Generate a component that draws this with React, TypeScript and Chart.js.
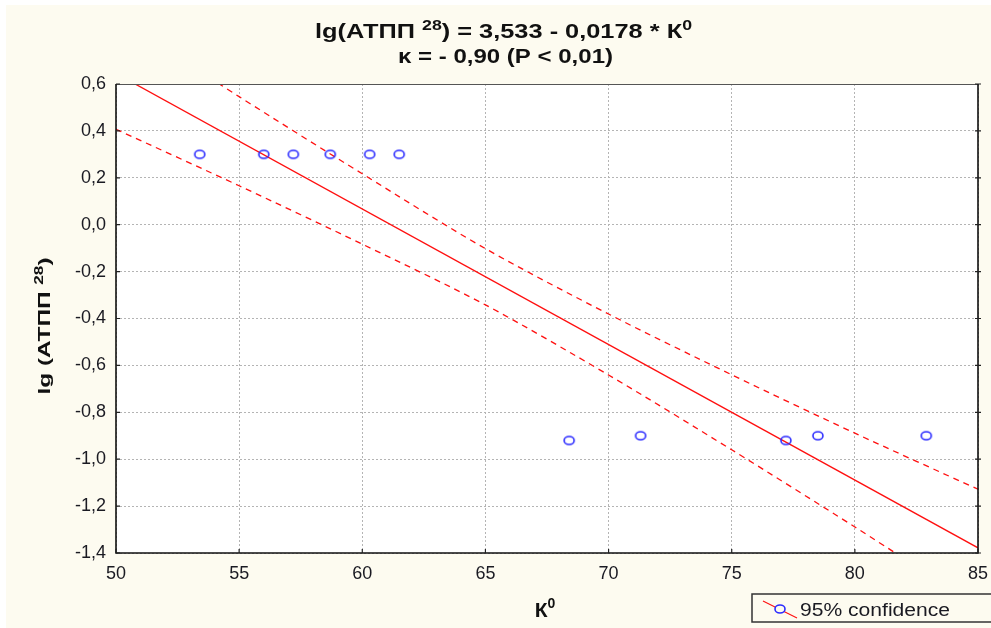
import { useEffect, useRef } from 'react';
import { Chart, registerables } from 'chart.js';

Chart.register(...registerables);

// ---- data ----
const pointX = [53.4, 56.0, 57.2, 58.7, 60.3, 61.5, 68.4, 71.3, 77.2, 78.5, 82.9];
const pointY = [0.30, 0.30, 0.30, 0.30, 0.30, 0.30, -0.92, -0.90, -0.92, -0.90, -0.90];

const fitX = [50, 85];
const fitY = [0.645, -1.378];

const bandX = [50, 55, 60, 65, 70, 75, 80, 85];
const upperY = [0.883, 0.546, 0.217, -0.102, -0.381, -0.640, -0.889, -1.128];
const lowerY = [0.407, 0.166, -0.083, -0.342, -0.641, -0.960, -1.289, -1.628];

const xMin = 50, xMax = 85, xStep = 5;
const yMin = -1.4, yMax = 0.6, yStep = 0.2;

const titleLine1 = [
  { t: 'lg(АТПП ' },
  { t: '28', sup: true },
  { t: ') = 3,533 - 0,0178 * К' },
  { t: '0', sup: true },
];
const titleLine2 = [{ t: 'κ = - 0,90 (P < 0,01)' }];
const yTitle = [{ t: 'lg (АТПП ' }, { t: '28', sup: true }, { t: ')' }];
const xTitle = [{ t: 'К' }, { t: '0', sup: true }];
const legendLabel = '95% confidence';

const FONT = '"Liberation Sans", Arial, sans-serif';
const CREAM = '#fdfbf0';
const BLUE = '#2b2bff';
const RED = '#ff1010';

type Seg = { t: string; sup?: boolean };

function drawRich(
  ctx: CanvasRenderingContext2D,
  segs: Seg[],
  x: number,
  y: number,
  size: number,
  bold: boolean,
  targetWidth: number | null,
  align: 'center' | 'left',
  color: string
) {
  const fonts = segs.map(
    (s) => `${bold ? 'bold ' : ''}${s.sup ? Math.round(size * 0.68) : size}px ${FONT}`
  );
  const widths = segs.map((s, i) => {
    ctx.font = fonts[i];
    return ctx.measureText(s.t).width;
  });
  const raw = widths.reduce((a, b) => a + b, 0);
  const sx = targetWidth ? targetWidth / raw : 1;
  const total = raw * sx;
  ctx.save();
  ctx.translate(align === 'center' ? x - total / 2 : x, y);
  ctx.scale(sx, 1);
  ctx.fillStyle = color;
  ctx.textAlign = 'left';
  ctx.textBaseline = 'alphabetic';
  let cx = 0;
  segs.forEach((s, i) => {
    ctx.font = fonts[i];
    ctx.fillText(s.t, cx, s.sup ? -size * 0.42 : 0);
    cx += widths[i];
  });
  ctx.restore();
}

function makeMarker(): HTMLCanvasElement {
  const c = document.createElement('canvas');
  c.width = 14;
  c.height = 12;
  const g = c.getContext('2d')!;
  g.strokeStyle = BLUE;
  g.lineWidth = 1.6;
  g.beginPath();
  g.ellipse(7, 6, 5, 4, 0, 0, Math.PI * 2);
  g.stroke();
  return c;
}

const decorPlugin = {
  id: 'decor',
  beforeDraw(chart: any) {
    const ctx = chart.ctx as CanvasRenderingContext2D;
    const { left, top, right, bottom } = chart.chartArea;
    ctx.save();
    ctx.fillStyle = '#ffffff';
    ctx.fillRect(0, 0, chart.width, chart.height);
    ctx.fillStyle = CREAM;
    ctx.fillRect(6, 5, chart.width - 6, chart.height - 5);
    ctx.fillStyle = '#ffffff';
    ctx.fillRect(left, top, right - left, bottom - top);
    ctx.restore();
  },
  afterDraw(chart: any) {
    const ctx = chart.ctx as CanvasRenderingContext2D;
    const { left, top, right, bottom } = chart.chartArea;
    const xs = chart.scales.x;
    const ys = chart.scales.y;
    ctx.save();
    // frame
    ctx.strokeStyle = '#555';
    ctx.lineWidth = 1;
    ctx.beginPath();
    ctx.moveTo(left, top + 0.5);
    ctx.lineTo(right, top + 0.5);
    ctx.stroke();
    ctx.strokeStyle = '#111';
    ctx.lineWidth = 1.6;
    ctx.beginPath();
    ctx.moveTo(left, top);
    ctx.lineTo(left, bottom);
    ctx.lineTo(right, bottom);
    ctx.lineTo(right, top);
    ctx.stroke();
    // small tick marks
    ctx.lineWidth = 1.2;
    ctx.strokeStyle = '#222';
    xs.ticks.forEach((t: any) => {
      const px = xs.getPixelForValue(t.value);
      ctx.beginPath();
      ctx.moveTo(px, bottom);
      ctx.lineTo(px, bottom - 4);
      ctx.stroke();
    });
    ys.ticks.forEach((t: any) => {
      const py = ys.getPixelForValue(t.value);
      ctx.beginPath();
      ctx.moveTo(left, py);
      ctx.lineTo(left + 4, py);
      ctx.moveTo(right - 3, py);
      ctx.lineTo(right + 3, py);
      ctx.stroke();
    });
    ctx.restore();

    // titles
    drawRich(ctx, titleLine1, 503.5, 38, 20, true, 377, 'center', '#111');
    drawRich(ctx, titleLine2, 505.5, 63, 20, true, 215, 'center', '#111');
    // x axis title
    drawRich(ctx, xTitle, 545, 617, 21, true, null, 'center', '#111');
    // y axis title
    ctx.save();
    ctx.translate(50, 326);
    ctx.rotate(-Math.PI / 2);
    drawRich(ctx, yTitle, 0, 0, 17, true, 137, 'center', '#111');
    ctx.restore();

    // legend box
    ctx.save();
    ctx.fillStyle = CREAM;
    ctx.fillRect(752, 594, 250, 28);
    ctx.strokeStyle = '#333';
    ctx.lineWidth = 1.5;
    ctx.strokeRect(752, 594, 250, 28);
    ctx.strokeStyle = RED;
    ctx.lineWidth = 1.2;
    ctx.beginPath();
    ctx.moveTo(763, 601);
    ctx.lineTo(797, 618);
    ctx.stroke();
    ctx.fillStyle = CREAM;
    ctx.beginPath();
    ctx.ellipse(780, 609, 5, 4, 0, 0, Math.PI * 2);
    ctx.fill();
    ctx.strokeStyle = BLUE;
    ctx.lineWidth = 1.6;
    ctx.stroke();
    ctx.restore();
    drawRich(ctx, [{ t: legendLabel }], 800, 616, 18, false, 150, 'left', '#1a1a22');
  },
};

export default function App() {
  const ref = useRef<HTMLCanvasElement | null>(null);

  useEffect(() => {
    if (!ref.current) return;
    const marker = makeMarker();
    const chart = new Chart(ref.current, {
      type: 'scatter',
      data: {
        datasets: [
          {
            label: 'points',
            data: pointX.map((x, i) => ({ x, y: pointY[i] })),
            pointStyle: marker as any,
            pointRadius: 6,
            showLine: false,
          },
          {
            label: 'fit',
            data: fitX.map((x, i) => ({ x, y: fitY[i] })),
            showLine: true,
            borderColor: RED,
            borderWidth: 1.3,
            pointRadius: 0,
          },
          {
            label: 'upper',
            data: bandX.map((x, i) => ({ x, y: upperY[i] })),
            showLine: true,
            borderColor: RED,
            borderWidth: 1.3,
            borderDash: [6, 5],
            pointRadius: 0,
            tension: 0.3,
          },
          {
            label: 'lower',
            data: bandX.map((x, i) => ({ x, y: lowerY[i] })),
            showLine: true,
            borderColor: RED,
            borderWidth: 1.3,
            borderDash: [6, 5],
            pointRadius: 0,
            tension: 0.3,
          },
        ],
      },
      options: {
        responsive: false,
        animation: false,
        devicePixelRatio: 1,
        layout: { padding: { left: 0, top: 84, right: 13, bottom: 0 } },
        plugins: {
          legend: { display: false },
          title: { display: false },
          tooltip: { enabled: false },
        },
        scales: {
          x: {
            type: 'linear',
            min: xMin,
            max: xMax,
            afterFit: (s: any) => {
              s.height = 75;
              s.paddingLeft = 0;
              s.paddingRight = 0;
            },
            ticks: {
              stepSize: xStep,
              padding: 10,
              color: '#1a1a22',
              font: { family: FONT, size: 18 },
              callback: (v: any) => String(Math.round(Number(v))),
            },
            grid: { color: '#b4b4b4', lineWidth: 1, drawTicks: false },
            border: { display: false, dash: [2, 2] },
          },
          y: {
            type: 'linear',
            min: yMin,
            max: yMax,
            afterFit: (s: any) => {
              s.width = 116;
              s.paddingTop = 0;
              s.paddingBottom = 0;
            },
            ticks: {
              stepSize: yStep,
              padding: 10,
              color: '#1a1a22',
              font: { family: FONT, size: 18 },
              callback: (v: any) => {
                const r = Math.round(Number(v) * 10) / 10;
                const s = (Math.abs(r) < 1e-9 ? 0 : r).toFixed(1);
                return s.replace('.', ',');
              },
            },
            grid: { color: '#b4b4b4', lineWidth: 1, drawTicks: false },
            border: { display: false, dash: [2, 2] },
          },
        },
      },
      plugins: [decorPlugin],
    });
    return () => chart.destroy();
  }, []);

  return (
    <div style={{ position: 'absolute', left: 0, top: 0, width: 991, height: 628 }}>
      <canvas ref={ref} width={991} height={628} style={{ display: 'block' }} />
    </div>
  );
}
